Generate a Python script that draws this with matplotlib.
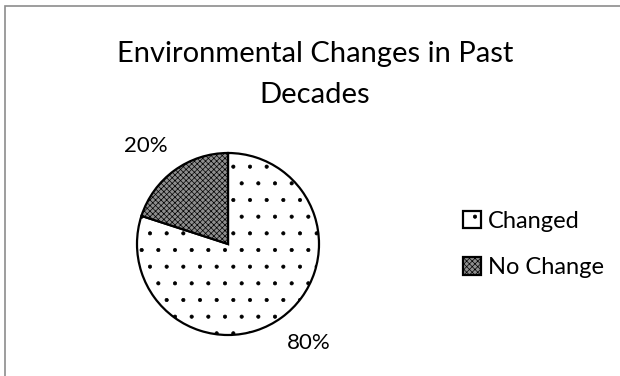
import matplotlib.pyplot as plt
from matplotlib.patches import Rectangle

labels = ["Changed", "No Change"]
shares = [80, 20]
pct_text = ["80%", "20%"]

plt.rcParams['font.family'] = ['Lato', 'DejaVu Sans']
plt.rcParams['hatch.linewidth'] = 0.5

W, H = 620, 376
fig = plt.figure(figsize=(W / 100, H / 100), dpi=100)

# chart frame: only the left and top edges fall inside the canvas
fig.patches.append(Rectangle((5 / W, -0.1), 1.0, 1.1 - 6 / H, transform=fig.transFigure,
                             fill=False, edgecolor="#8c8c8c", linewidth=1.2))

fig.text(0.508, 1 - 62 / H, "Environmental Changes in Past", ha="center", va="baseline", fontsize=21)
fig.text(0.508, 1 - 103 / H, "Decades", ha="center", va="baseline", fontsize=21)

cx, cy, r = 228, 244, 91
pad = 1.02
ax = fig.add_axes([(cx - r * pad) / W, (H - cy - r * pad) / H, 2 * r * pad / W, 2 * r * pad / H])
wedges, _ = ax.pie(shares, startangle=90, counterclock=False, radius=1,
                   colors=["white", "#8e8e8e"],
                   wedgeprops=dict(edgecolor="black", linewidth=1.6))
wedges[0].set_hatch(".")
wedges[1].set_hatch("xxxxxx")
ax.set_xlim(-pad, pad)
ax.set_ylim(-pad, pad)

# percentage labels placed outside the slices
ax.text(0.89, -1.09, pct_text[0], ha="center", va="center", fontsize=16)
ax.text(-0.90, 1.08, pct_text[1], ha="center", va="center", fontsize=16)

fig.legend(wedges, labels, loc="upper left", bbox_to_anchor=(0.747, 0.44),
           frameon=False, fontsize=17, handlelength=0.76, handleheight=0.76,
           handletextpad=0.3, labelspacing=1.08, borderpad=0, borderaxespad=0)

fig.savefig("out.png", dpi=100)
